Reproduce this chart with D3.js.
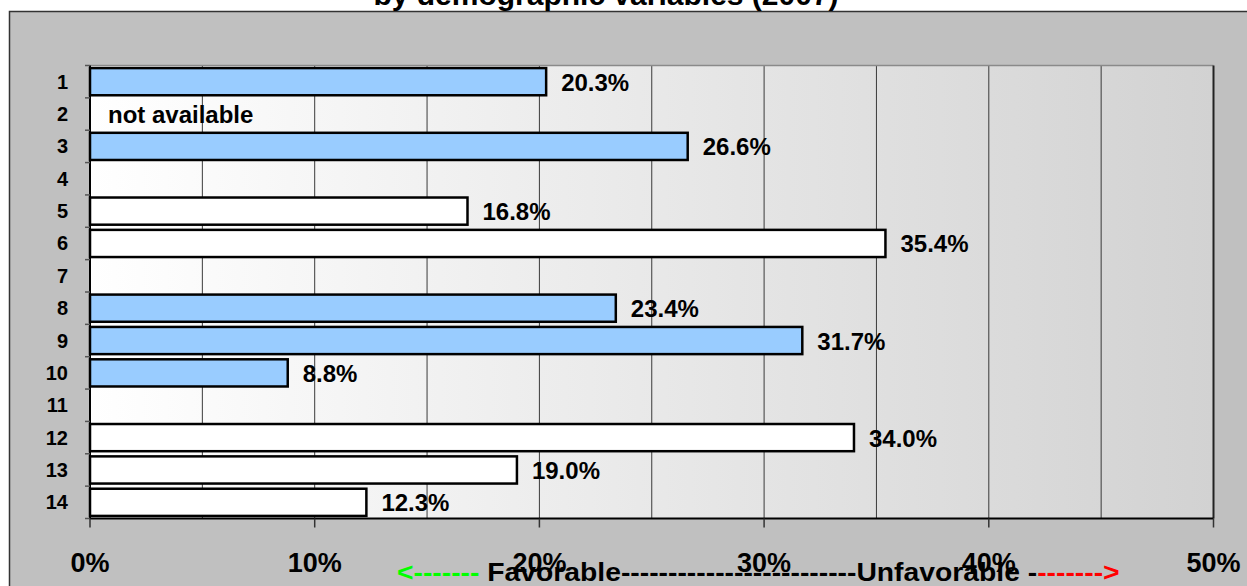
<!DOCTYPE html>
<html>
<head>
<meta charset="utf-8">
<script src="https://cdn.jsdelivr.net/npm/d3@7"></script>
<style>
  html, body { margin: 0; padding: 0; background: #ffffff; }
  svg { display: block; }
  text { font-family: "Liberation Sans", Arial, sans-serif; font-weight: bold; }
</style>
</head>
<body>
<svg id="chart" width="1247" height="586"></svg>
<script>
// ---- data ----
const categories = ["1","2","3","4","5","6","7","8","9","10","11","12","13","14"];
const values = [20.3, null, 26.6, null, 16.8, 35.4, null, 23.4, 31.7, 8.8, null, 34.0, 19.0, 12.3];
const isBlue = [true, false, true, false, false, false, false, true, true, true, false, false, false, false];
const naCategory = "2";
const naText = "not available";
const xTickValues = [0, 10, 20, 30, 40, 50];
const gridValues = [5, 10, 15, 20, 25, 30, 35, 40, 45];
const titleText = "by demographic variables (2007)";
const footerParts = [
  { text: "<-------", color: "#00ff00" },
  { text: " Favorable-------------------------Unfavorable -", color: "#000000" },
  { text: "------->", color: "#ff0000" }
];

// ---- layout ----
const svg = d3.select("#chart");
const W = 1247, H = 586;
const plot = { left: 90, right: 1213.5, top: 65.5, bottom: 518.5 };

const x = d3.scaleLinear().domain([0, 50]).range([plot.left, plot.right]);
const y = d3.scaleBand().domain(categories).range([plot.top, plot.bottom]).paddingInner(0.16).paddingOuter(0.08);
const band = d3.scaleBand().domain(categories).range([plot.top, plot.bottom]);

// outer frame
svg.append("rect").attr("x", 9.5).attr("y", 11.5).attr("width", W).attr("height", H)
  .attr("fill", "#c0c0c0").attr("stroke", "#333").attr("stroke-width", 1.5);

// title (partially cut)
svg.append("text").attr("x", 606).attr("y", 4.5).attr("text-anchor", "middle")
  .attr("font-size", 30).attr("fill", "#000").text(titleText);

// plot background gradient
const defs = svg.append("defs");
const grad = defs.append("linearGradient").attr("id", "bg").attr("x1", "0").attr("x2", "1").attr("y1", "0").attr("y2", "0");
grad.append("stop").attr("offset", "0%").attr("stop-color", "#ffffff");
grad.append("stop").attr("offset", "100%").attr("stop-color", "#d2d2d2");
svg.append("rect").attr("x", plot.left).attr("y", plot.top)
  .attr("width", plot.right - plot.left).attr("height", plot.bottom - plot.top)
  .attr("fill", "url(#bg)");

// gridlines
svg.append("g").selectAll("line").data(gridValues).join("line")
  .attr("x1", d => x(d)).attr("x2", d => x(d))
  .attr("y1", plot.top).attr("y2", plot.bottom)
  .attr("stroke", "#3a3a3a").attr("stroke-width", 1);

// plot top border & right border
svg.append("line").attr("x1", plot.left).attr("x2", plot.right).attr("y1", plot.top).attr("y2", plot.top)
  .attr("stroke", "#8a8a8a").attr("stroke-width", 1.5);
svg.append("line").attr("x1", plot.right).attr("x2", plot.right).attr("y1", plot.top).attr("y2", plot.bottom)
  .attr("stroke", "#222").attr("stroke-width", 2);

// bars
const rows = categories.map((c, i) => ({ c, v: values[i], blue: isBlue[i] })).filter(d => d.v !== null);
svg.append("g").selectAll("rect").data(rows).join("rect")
  .attr("x", x(0)).attr("y", d => y(d.c))
  .attr("width", d => x(d.v) - x(0)).attr("height", y.bandwidth())
  .attr("fill", d => d.blue ? "#99ccff" : "#ffffff")
  .attr("stroke", "#000").attr("stroke-width", 2.5);

// value labels
svg.append("g").selectAll("text").data(rows).join("text")
  .attr("x", d => x(d.v) + 15)
  .attr("y", d => y(d.c) + y.bandwidth() / 2 + 9)
  .attr("font-size", 24).attr("fill", "#000")
  .text(d => d.v.toFixed(1) + "%");

// not available label
svg.append("text").attr("x", plot.left + 18)
  .attr("y", band(naCategory) + band.bandwidth() / 2 + 9)
  .attr("font-size", 24).attr("fill", "#000").text(naText);

// y axis
const yAxisG = svg.append("g").attr("transform", `translate(${plot.left},0)`);
yAxisG.append("line").attr("x1", 0).attr("x2", 0).attr("y1", plot.top).attr("y2", plot.bottom)
  .attr("stroke", "#000").attr("stroke-width", 2);
const yTickPos = d3.range(categories.length + 1).map(i => plot.top + i * band.step());
yAxisG.selectAll("line.tick").data(yTickPos).join("line").attr("class", "tick")
  .attr("x1", -5).attr("x2", 0).attr("y1", d => d).attr("y2", d => d)
  .attr("stroke", "#555").attr("stroke-width", 1.5);
yAxisG.selectAll("text").data(categories).join("text")
  .attr("x", -22).attr("y", d => band(d) + band.bandwidth() / 2 + 7)
  .attr("text-anchor", "end").attr("font-size", 20).attr("fill", "#000").text(d => d);

// x axis
const xAxisG = svg.append("g").attr("transform", `translate(0,${plot.bottom})`);
xAxisG.append("line").attr("x1", plot.left).attr("x2", plot.right).attr("y1", 0).attr("y2", 0)
  .attr("stroke", "#000").attr("stroke-width", 2);
xAxisG.selectAll("line.tick").data(xTickValues).join("line").attr("class", "tick")
  .attr("x1", d => x(d)).attr("x2", d => x(d)).attr("y1", 0).attr("y2", 9)
  .attr("stroke", "#333").attr("stroke-width", 1.5);
xAxisG.selectAll("text").data(xTickValues).join("text")
  .attr("x", d => x(d)).attr("y", 53).attr("text-anchor", "middle")
  .attr("font-size", 27).attr("fill", "#000").text(d => d + "%");

// footer (favorable/unfavorable)
const footer = svg.append("text").attr("x", 0).attr("y", 0)
  .attr("font-size", 25).style("white-space", "pre");
footer.selectAll("tspan").data(footerParts).join("tspan")
  .attr("fill", d => d.color).text(d => d.text);
const natural = footer.node().getComputedTextLength();
const targetW = 723;
footer.attr("transform", `translate(397,581) scale(${targetW / natural},1)`);
</script>
</body>
</html>
